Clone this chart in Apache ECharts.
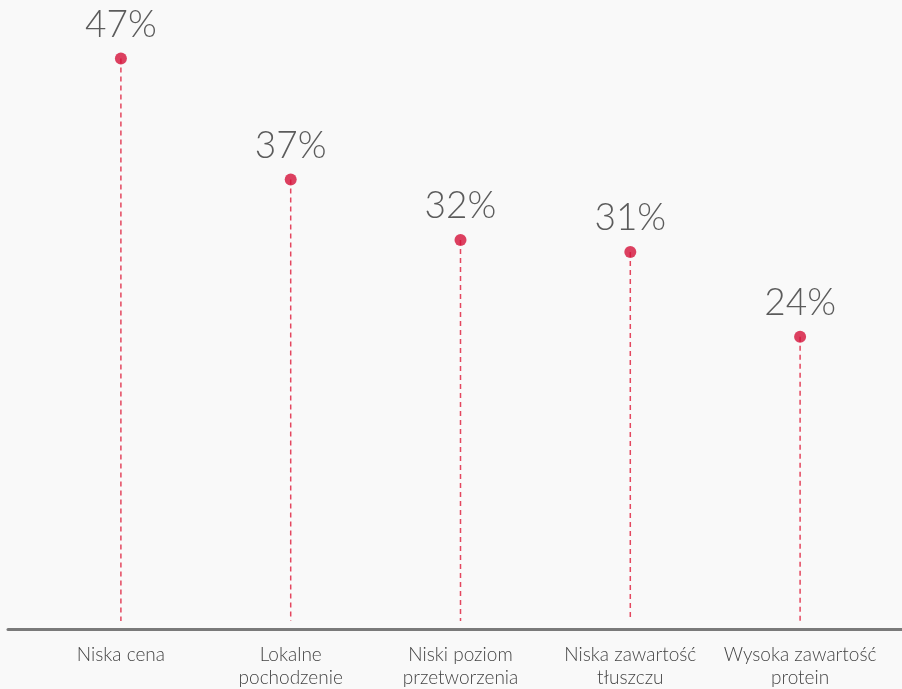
<!DOCTYPE html>
<html>
<head>
<meta charset="utf-8">
<style>
  html, body { margin: 0; padding: 0; background: #f9f9f9; }
  #chart { width: 902px; height: 689px; }
</style>
<script src="https://cdn.jsdelivr.net/npm/echarts@6/dist/echarts.min.js"></script>
</head>
<body>
<div id="chart"></div>
<script>
// Share of respondents naming each attribute
const categories = [
  'Niska cena',
  'Lokalne\npochodzenie',
  'Niski poziom\nprzetworzenia',
  'Niska zawartość\ntłuszczu',
  'Wysoka zawartość\nprotein'
];
const values = [47, 37, 32, 31, 24];

const RED = '#d5123a';
const STEM = '#e4475f';
// the visible baseline sits a few pixels above the value zero
const BASE_RAISE = 6;
const PLOT_BOTTOM = 53.8;

const chart = echarts.init(document.getElementById('chart'), null, { renderer: 'canvas' });

chart.setOption({
  backgroundColor: '#f9f9f9',
  animation: false,
  grid: [
    { left: 36, right: 17, top: 22.2, bottom: PLOT_BOTTOM },
    { left: 8, right: 0, top: 22.2, bottom: PLOT_BOTTOM + BASE_RAISE }
  ],
  xAxis: [
    {
      type: 'category',
      gridIndex: 0,
      data: categories,
      axisLine: { show: false },
      axisTick: { show: false },
      axisLabel: {
        margin: 16,
        color: '#444444',
        fontFamily: 'Lato',
        fontWeight: 300,
        fontSize: 19,
        lineHeight: 23,
        interval: 0
      }
    },
    {
      type: 'value',
      gridIndex: 1,
      min: 0,
      max: 1,
      axisLine: { show: true, lineStyle: { color: '#7a7a7a', width: 3 } },
      axisTick: { show: false },
      axisLabel: { show: false },
      splitLine: { show: false }
    }
  ],
  yAxis: [
    { type: 'value', gridIndex: 0, min: 0, max: 50, show: false },
    { type: 'value', gridIndex: 1, min: 0, max: 1, show: false }
  ],
  series: [
    {
      // dashed stems from the baseline up to each value
      type: 'custom',
      xAxisIndex: 0,
      yAxisIndex: 0,
      data: values.map((v, i) => [i, v]),
      renderItem: function (params, api) {
        const top = api.coord([api.value(0), api.value(1)]);
        const base = api.coord([api.value(0), 0]);
        return {
          type: 'line',
          shape: { x1: top[0], y1: top[1], x2: base[0], y2: base[1] - BASE_RAISE },
          style: { stroke: STEM, lineWidth: 1.5, lineDash: [5, 4] }
        };
      },
      z: 2
    },
    {
      type: 'scatter',
      xAxisIndex: 0,
      yAxisIndex: 0,
      data: values,
      symbol: 'circle',
      symbolSize: 12,
      itemStyle: { color: RED },
      label: {
        show: true,
        position: 'top',
        distance: 9,
        formatter: '{c}%',
        color: '#333333',
        fontFamily: 'Lato',
        fontWeight: 300,
        fontSize: 37
      },
      z: 3
    }
  ]
});
</script>
</body>
</html>
